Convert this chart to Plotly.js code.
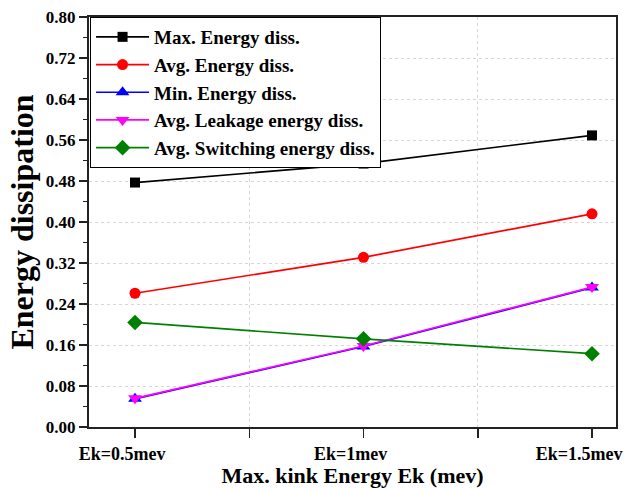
<!DOCTYPE html>
<html>
<head>
<meta charset="utf-8">
<script src="https://cdn.plot.ly/plotly-3.0.1.min.js"></script>
<style>html,body{margin:0;padding:0;background:#fff;}#chart{width:635px;height:488px;}</style>
</head>
<body>
<div id="chart"></div>
<script>
const categories = ["Ek=0.5mev", "Ek=1mev", "Ek=1.5mev"];
const maxEnergy = [0.477, 0.514, 0.569];
const avgEnergy = [0.261, 0.331, 0.416];
const minEnergy = [0.055, 0.157, 0.272];
const avgLeakage = [0.056, 0.158, 0.273];
const avgSwitching = [0.204, 0.172, 0.143];
const seriesNames = ["Max. Energy diss.", "Avg. Energy diss.", "Min. Energy diss.", "Avg. Leakage energy diss.", "Avg. Switching energy diss."];
const yTickVals = [0, 0.08, 0.16, 0.24, 0.32, 0.40, 0.48, 0.56, 0.64, 0.72, 0.80];

const xIdx = categories.map((_, i) => i);
function tr(name, y, color, symbol, size) {
  return {x: xIdx, y: y, name: name, type: 'scatter', mode: 'lines+markers',
    line: {color: color, width: 1.7},
    marker: {color: color, symbol: symbol, size: size, line: {width: 0}}};
}
const data = [
  tr(seriesNames[0], maxEnergy, '#000000', 'square', 10),
  tr(seriesNames[1], avgEnergy, '#ff0000', 'circle', 11),
  tr(seriesNames[2], minEnergy, '#0000ff', 'triangle-up', 12),
  tr(seriesNames[3], avgLeakage, '#ff00ff', 'triangle-down', 12),
  tr(seriesNames[4], avgSwitching, '#008000', 'diamond', 12)
];
const font = {family: '"Liberation Serif", "Times New Roman", serif', color: '#000'};
const layout = {
  width: 635, height: 488,
  margin: {l: 89, r: 19, t: 17, b: 61},
  paper_bgcolor: '#fff', plot_bgcolor: '#fff',
  font: font,
  showlegend: true,
  legend: {x: 0.002, y: 1, xanchor: 'left', yanchor: 'top',
    bgcolor: '#fff', bordercolor: '#000', borderwidth: 1,
    font: {family: font.family, size: 19, color: '#000', weight: 'bold'},
    tracegroupgap: 0, itemwidth: 53},
  xaxis: {
    range: [-0.2013, 2.105], tickmode: 'array', tickvals: xIdx, ticktext: categories,
    ticks: 'outside', ticklen: 9, tickwidth: 1.5, tickcolor: '#222',
    ticklabelshift: -13,
    showline: true, linewidth: 2, linecolor: '#222', mirror: true,
    showgrid: false, zeroline: false,
    tickfont: {family: font.family, size: 18, color: '#000', weight: 'bold'},
    minor: {tick0: 0.5, dtick: 1, ticks: 'outside', ticklen: 9, tickwidth: 1.5, tickcolor: '#222',
      showgrid: true, gridcolor: '#d6d6d6', griddash: 'dot', gridwidth: 1},
    title: {text: 'Max. kink Energy Ek (mev)', standoff: 2,
      font: {family: font.family, size: 22, color: '#000', weight: 'bold'}}
  },
  yaxis: {
    range: [0, 0.8], tickmode: 'array', tickvals: yTickVals, tickformat: '.2f',
    ticks: 'outside', ticklen: 8, tickwidth: 1.5, tickcolor: '#222',
    showline: true, linewidth: 2, linecolor: '#222', mirror: true,
    showgrid: true, gridcolor: '#d6d6d6', griddash: 'dot', gridwidth: 1,
    zeroline: false,
    tickfont: {family: font.family, size: 17, color: '#000', weight: 'bold'},
    minor: {tick0: 0.04, dtick: 0.08, ticks: 'outside', ticklen: 4, tickwidth: 1.5, tickcolor: '#222', showgrid: false},
    title: {text: 'Energy dissipation', standoff: 3,
      font: {family: font.family, size: 32, color: '#000', weight: 'bold'}}
  }
};
Plotly.newPlot('chart', data, layout, {displayModeBar: false, staticPlot: true});
</script>
</body>
</html>
